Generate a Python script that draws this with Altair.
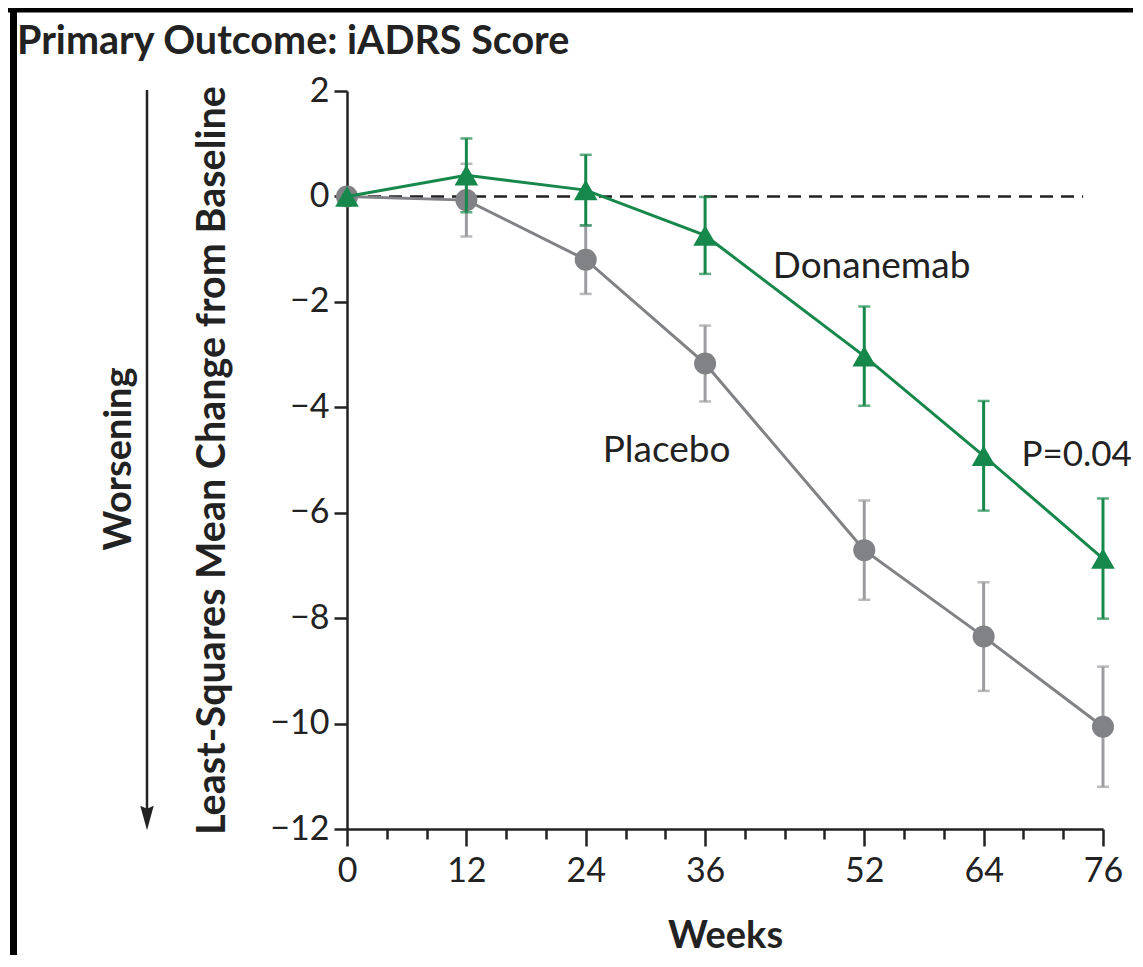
import altair as alt
import pandas as pd

# ---- data ----
weeks = [0, 12, 24, 36, 52, 64, 76]
placebo_mean = [0.0, -0.07, -1.20, -3.17, -6.71, -8.35, -10.06]
placebo_err = [0.0, 0.69, 0.65, 0.72, 0.94, 1.03, 1.14]
donanemab_mean = [0.0, 0.40, 0.12, -0.74, -3.03, -4.92, -6.87]
donanemab_err = [0.0, 0.70, 0.67, 0.73, 0.94, 1.04, 1.14]

major_weeks = [0, 12, 24, 36, 52, 64, 76]
minor_weeks = list(range(0, 77, 4))
y_ticks = [-12, -10, -8, -6, -4, -2, 0, 2]
ref_line_weeks = [0, 74]

series_labels = ["Donanemab", "Placebo"]
series_label_week = [42.8, 25.7]
series_label_value = [-1.33, -4.82]
p_label = ["P=0.04"]
p_label_week = [67.8]
p_label_value = [-4.91]

GREEN = "#17884b"
GRAY = "#818285"
GRAY_BAR = "#9c9da0"
FONT = "Lato"


def frame(mean, err):
    return pd.DataFrame({
        "week": weeks,
        "mean": mean,
        "lo": [m - e for m, e in zip(mean, err)],
        "hi": [m + e for m, e in zip(mean, err)],
        "err": err,
    })


pl = frame(placebo_mean, placebo_err)
dn = frame(donanemab_mean, donanemab_err)

xscale = alt.Scale(domain=[0, 76], nice=False, zero=False)
yscale = alt.Scale(domain=[-12, 2], nice=False, zero=False)

major_test = "indexof([0,12,24,36,52,64,76], datum.value) >= 0"

xaxis = alt.Axis(
    values=minor_weeks,
    labelExpr=f"{major_test} ? datum.label : ''",
    tickSize={"condition": {"test": major_test, "value": 17}, "value": 10},
    tickWidth=2.5, tickColor="#222", domainColor="#222", domainWidth=2.5,
    labelFont=FONT, labelFontSize=34, labelColor="#222", labelPadding=8,
    labelFlush=False, labelOverlap=False, labelBound=False,
    title="Weeks", titleFont=FONT, titleFontSize=38, titleFontWeight="bold",
    titleColor="#222", titlePadding=29, grid=False,
)
yaxis = alt.Axis(
    values=y_ticks, tickSize=13, tickWidth=2.5, tickColor="#222",
    domainColor="#222", domainWidth=2.5,
    labelFont=FONT, labelFontSize=34, labelColor="#222", labelPadding=5,
    labelFlush=False, labelOverlap=False, labelBound=False,
    title="Least-Squares Mean Change from Baseline", titleFont=FONT,
    titleFontSize=39.5, titleFontWeight="bold", titleColor="#222",
    titleAngle=-90, titleX=-135, titleY=369, titleAlign="center",
    titleBaseline="middle", grid=False,
)

X = alt.X("week:Q", scale=xscale, axis=xaxis)


def Y(field):
    return alt.Y(field, scale=yscale, axis=yaxis)


ref = pd.DataFrame({"week": ref_line_weeks, "mean": [0, 0]})
zero_line = alt.Chart(ref).mark_line(
    color="#222", strokeWidth=2.5, strokeDash=[13, 8]
).encode(x=X, y=Y("mean:Q"))


def series(df, color, bar_color, shape, size):
    d = alt.Chart(df)
    bars = d.transform_filter("datum.err > 0")
    line = d.mark_line(color=color, strokeWidth=3).encode(x=X, y=Y("mean:Q"))
    rule = bars.mark_rule(color=bar_color, strokeWidth=3).encode(x=X, y=Y("lo:Q"), y2="hi:Q")
    cap_lo = bars.mark_tick(color=bar_color, orient="horizontal", size=12, thickness=2.5).encode(
        x=X, y=Y("lo:Q"))
    cap_hi = bars.mark_tick(color=bar_color, orient="horizontal", size=12, thickness=2.5).encode(
        x=X, y=Y("hi:Q"))
    pts = d.mark_point(shape=shape, size=size, filled=True, color=color, opacity=1).encode(
        x=X, y=Y("mean:Q"))
    return [line, rule, cap_lo, cap_hi, pts]


lab = pd.DataFrame({"t": series_labels, "week": series_label_week, "mean": series_label_value})
labels = alt.Chart(lab).mark_text(
    font=FONT, fontSize=37, color="#222", align="left", baseline="middle"
).encode(x=X, y=Y("mean:Q"), text="t:N")

plab = pd.DataFrame({"t": p_label, "week": p_label_week, "mean": p_label_value})
p_text = alt.Chart(plab).mark_text(
    font=FONT, fontSize=35, color="#222", align="left", baseline="middle"
).encode(x=X, y=Y("mean:Q"), text="t:N")

# decorations (pixel positions relative to the plot area)
title = alt.Chart(pd.DataFrame({"t": ["Primary Outcome: iADRS Score"]})).mark_text(
    font=FONT, fontSize=39.5, fontWeight="bold", color="#222", align="left", baseline="alphabetic"
).encode(text="t:N", x=alt.value(-330), y=alt.value(-37))

worse = alt.Chart(pd.DataFrame({"t": ["Worsening"]})).mark_text(
    font=FONT, fontSize=38, fontWeight="bold", color="#222", angle=270,
    align="center", baseline="middle"
).encode(text="t:N", x=alt.value(-227), y=alt.value(368))

arrow_shaft = alt.Chart(pd.DataFrame({"a": [1]})).mark_rule(color="#222", strokeWidth=2.5).encode(
    x=alt.value(-200), y=alt.value(-1), y2=alt.value(720))
arrow_head = alt.Chart(pd.DataFrame({"a": [1]})).mark_point(
    shape="M -0.55 -1 L 0 -0.75 L 0.55 -1 L 0 1 Z", size=600, filled=True, color="#222", opacity=1
).encode(x=alt.value(-200), y=alt.value(727))

frame_top = alt.Chart(pd.DataFrame({"a": [1]})).mark_rule(color="#000", strokeWidth=5).encode(
    x=alt.value(-340), x2=alt.value(786), y=alt.value(-81), y2=alt.value(-81))
frame_left = alt.Chart(pd.DataFrame({"a": [1]})).mark_rule(color="#000", strokeWidth=7).encode(
    x=alt.value(-333.5), x2=alt.value(-333.5), y=alt.value(-90), y2=alt.value(880))

layers = [zero_line]
layers += series(pl, GRAY, GRAY_BAR, "circle", 484)
layers += series(dn, GREEN, GREEN, "triangle-up", 560)
layers += [labels, p_text, title, worse, arrow_shaft, arrow_head, frame_top, frame_left]

chart = alt.layer(*layers).properties(
    width=756, height=738,
    autosize=alt.AutoSizeParams(type="none"),
    padding={"left": 339, "top": 83, "right": 32, "bottom": 126},
).configure_view(stroke=None)

chart.save("out.html", embed_options={"renderer": "svg", "actions": False})
